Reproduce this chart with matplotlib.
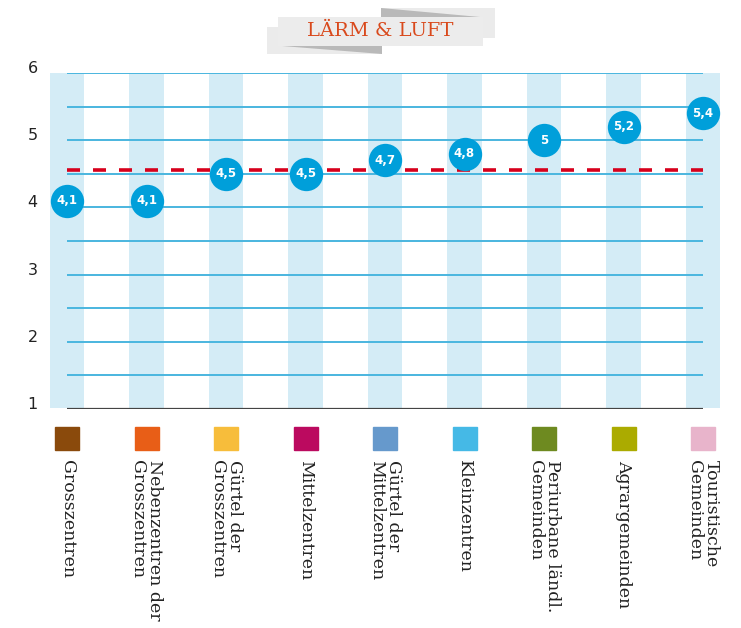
import matplotlib
matplotlib.use("Agg")
import matplotlib.pyplot as plt
from matplotlib.patches import Rectangle, Polygon

# data
categories = ["Grosszentren", "Nebenzentren der\nGrosszentren", "Gürtel der\nGrosszentren",
              "Mittelzentren", "Gürtel der\nMittelzentren", "Kleinzentren",
              "Periurbane ländl.\nGemeinden", "Agrargemeinden", "Touristische\nGemeinden"]
values = [4.1, 4.1, 4.5, 4.5, 4.7, 4.8, 5.0, 5.2, 5.4]
value_labels = ["4,1", "4,1", "4,5", "4,5", "4,7", "4,8", "5", "5,2", "5,4"]
legend_colors = ["#8a4a0c", "#e85e17", "#f7bd3b", "#bb0a5f", "#6699cc",
                 "#45b9e6", "#6e8a20", "#abab00", "#e8b4cb"]
mean_value = 4.55
yticks = [1, 2, 3, 4, 5, 6]

W, H = 741, 628
fig = plt.figure(figsize=(W / 100, H / 100), dpi=100)

# axes placed in pixel terms: category 0 at x=67, category 8 at x=703, y 1..6 at 409..73
step = (703 - 67) / 8
x0, x1 = -0.22, 8.22
left = 67 + x0 * step
right = 67 + x1 * step
ax = fig.add_axes([left / W, 1 - 409 / H, (right - left) / W, (409 - 73) / H])
ax.set_xlim(x0, x1)
ax.set_ylim(1, 6)
ax.axis("off")

n = len(categories)
xs = list(range(n))

# light blue column stripes
for x in xs:
    ax.add_patch(Rectangle((x - 0.215, 1.01), 0.43, 4.99, color="#d4ecf6", lw=0, zorder=0))

# horizontal grid lines every 0.5
grid = [1.5 + 0.5 * i for i in range(10)]
ax.hlines(grid, 0, n - 1, color="#4ab6df", lw=1.4, zorder=1)
ax.hlines(1, 0, n - 1, color="#444444", lw=1.6, zorder=2)

# mean line
ax.hlines(mean_value, 0, n - 1, color="#d7001c", lw=2.6, linestyles=(0, (3.6, 3.6)), zorder=2)

# value dots
ax.plot(xs, values, "o", ms=24, color="#009fda", mec="none", zorder=3, clip_on=False)
for x, v, lab in zip(xs, values, value_labels):
    ax.text(x, v, lab, ha="center", va="center", color="white", fontsize=8.5,
            fontweight="bold", zorder=4)

# y labels sitting on the grid lines
for t in yticks:
    ax.text(-0.37, t, str(t), ha="right", va="baseline", fontsize=11.5, color="#222222",
            clip_on=False)

# legend squares and rotated labels
for x, c, lab in zip(xs, legend_colors, categories):
    px = 67 + x * step
    fig.patches.append(Rectangle(((px - 12) / W, 1 - 450 / H), 24 / W, 23 / H, color=c,
                                 transform=fig.transFigure))
    fig.text(px / W, 1 - 460 / H, lab, rotation=-90, ha="center", va="top",
             multialignment="left", fontsize=12.5, family="DejaVu Serif", color="#222222",
             linespacing=1.0)

# title ribbon
def fpoly(pts, color):
    fig.patches.append(Polygon([(x / W, 1 - y / H) for x, y in pts], closed=True,
                               color=color, lw=0, transform=fig.transFigure))

fpoly([(381, 8), (495, 8), (495, 38), (381, 38)], "#ebebeb")
fpoly([(381, 8), (381, 17), (480, 17)], "#b9b9b9")
fpoly([(267, 27), (382, 27), (382, 54), (267, 54)], "#ebebeb")
fpoly([(282, 46), (382, 46), (382, 54)], "#b9b9b9")
fpoly([(278, 17), (483, 17), (483, 46), (278, 46)], "#ececec")
fig.text(380 / W, 1 - 31 / H, "LÄRM & LUFT", ha="center", va="center", fontsize=14,
         family="DejaVu Serif", color="#d9491c")

fig.savefig("out.png", dpi=100)
